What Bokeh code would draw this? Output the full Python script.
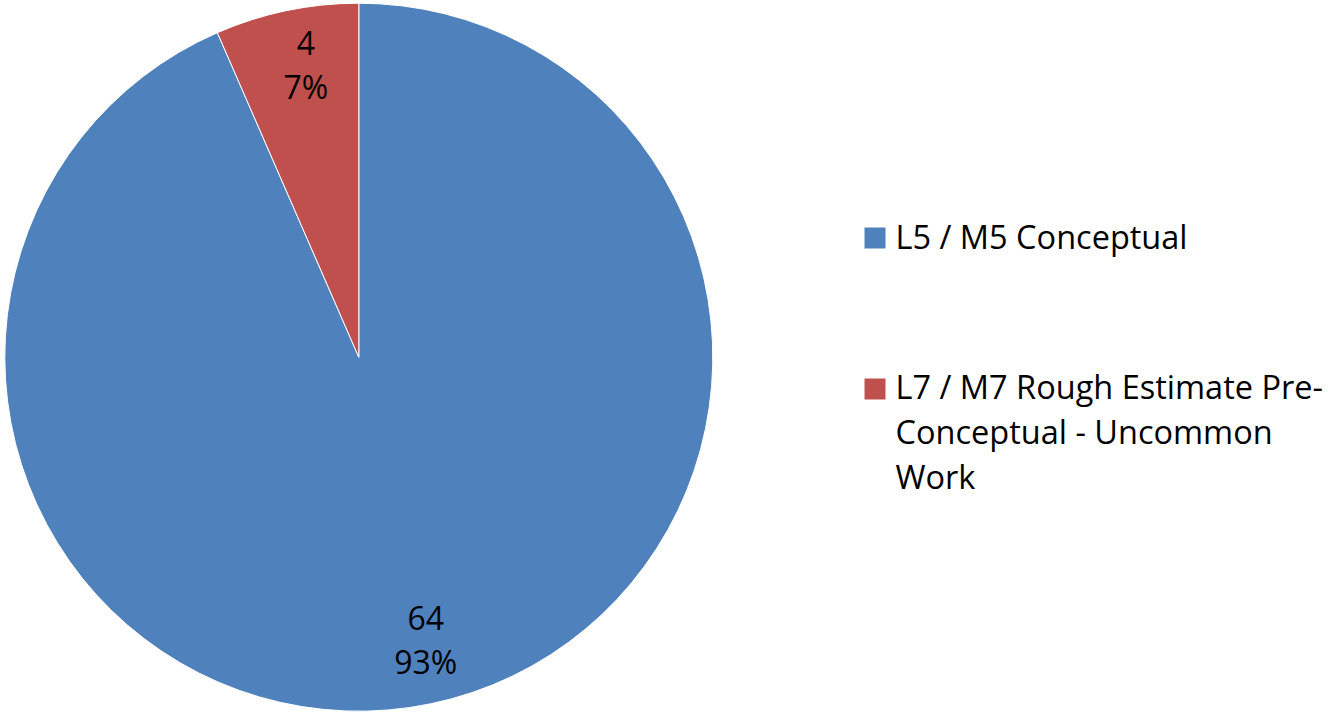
import math
from bokeh.plotting import figure
from bokeh.models import Range1d, ColumnDataSource
from bokeh.core.properties import value
from bokeh.embed import file_html
from bokeh.resources import INLINE

# ---- data ----
categories = ["L5 / M5 Conceptual", "L7 / M7 Rough Estimate Pre-Conceptual - Uncommon Work"]
values = [64, 4.48]
colors = ["#4F81BD", "#C0504D"]
legend_lines = [["L5 / M5 Conceptual"],
                ["L7 / M7 Rough Estimate Pre-", "Conceptual - Uncommon", "Work"]]

FONT = "Open Sans"
W, H = 1328, 712

p = figure(width=W, height=H, output_backend="svg", toolbar_location=None,
           x_range=Range1d(0, W), y_range=Range1d(0, H),
           min_border=0, border_fill_color="white", background_fill_color="white")
p.axis.visible = False
p.grid.visible = False
p.outline_line_color = None

# pie geometry (page pixels, y flipped)
cx, cy, R = 358.3, H - 356.7, 354

total = sum(values)
# Excel-style: first slice starts at 12 o'clock going clockwise
starts, ends, mids = [], [], []
acc = 0.0
for v in values:
    a0 = math.pi / 2 - 2 * math.pi * acc / total
    acc += v
    a1 = math.pi / 2 - 2 * math.pi * acc / total
    starts.append(a1)
    ends.append(a0)
    mids.append((a0 + a1) / 2)

src = ColumnDataSource(dict(x=[cx] * len(values), y=[cy] * len(values),
                            start=starts, end=ends, color=colors))
p.wedge(x="x", y="y", radius=R, start_angle="start", end_angle="end",
        fill_color="color", line_color="white", line_width=1, source=src)

# data labels (value line and percent line)
lab_r = 0.83 * R
lx = [cx + lab_r * math.cos(m) for m in mids]
ly = [cy + lab_r * math.sin(m) for m in mids]
val_labels = [f"{round(v)}" for v in values]
pct_labels = [f"{round(100 * v / total)}%" for v in values]
common = dict(text_align="center", text_baseline="middle", text_font=value(FONT),
              text_font_size="32px", text_color="black")
p.text(x=lx, y=ly, text=val_labels, x_offset=7, y_offset=-27, **common)
p.text(x=lx, y=ly, text=pct_labels, x_offset=7, y_offset=17, **common)

# legend (manual, to allow wrapped text)
sq_x = 874.5
sq_y = [H - 237.5, H - 388.5]
p.rect(x=[sq_x] * 2, y=sq_y, width=21, height=21, width_units="screen",
       height_units="screen", fill_color=colors, line_color=None)
tx, ty, tt = [], [], []
first_baselines = [248, 398]
for i, lines in enumerate(legend_lines):
    for j, line in enumerate(lines):
        tx.append(895)
        ty.append(H - (first_baselines[i] + 45 * j))
        tt.append(line)
p.text(x=tx, y=ty, text=tt, y_offset=-12, text_align="left", text_baseline="alphabetic",
       text_font=value(FONT), text_font_size="32.5px", text_color="black")

open("out.html", "w").write(file_html(p, INLINE))
